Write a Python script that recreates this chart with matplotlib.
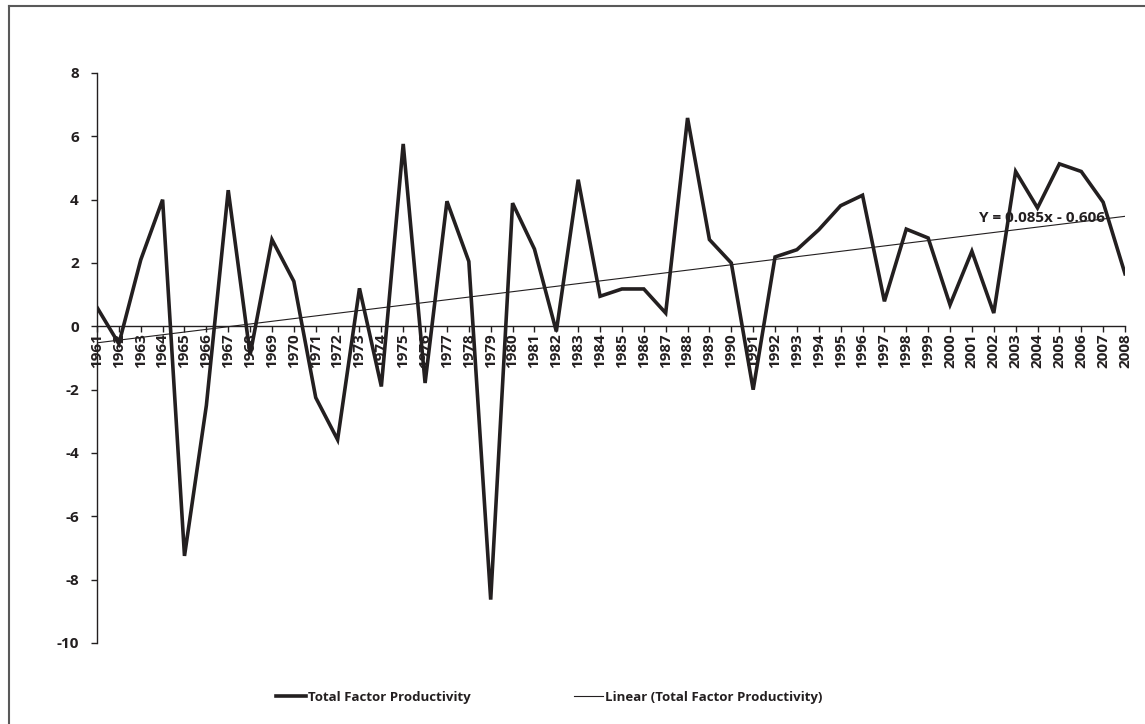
import matplotlib
matplotlib.use("Agg")
import matplotlib.pyplot as plt
from matplotlib.lines import Line2D
import numpy as np

plt.rcParams['font.family'] = ['Open Sans', 'DejaVu Sans']
plt.rcParams['font.weight'] = 'bold'

# data
years = list(range(1961, 2009))
tfp = [0.6, -0.55, 2.1, 4.0, -7.25, -2.5, 4.3, -0.9, 2.74, 1.42,
       -2.25, -3.58, 1.2, -1.9, 5.76, -1.79, 3.95, 2.05, -8.63, 3.89,
       2.44, -0.16, 4.63, 0.95, 1.18, 1.18, 0.42, 6.58, 2.74, 2.0,
       -2.0, 2.19, 2.42, 3.05, 3.81, 4.14, 0.79, 3.07, 2.79, 0.68,
       2.37, 0.42, 4.89, 3.74, 5.13, 4.89, 3.92, 1.66]
trend_slope = 0.085
trend_intercept = -0.606
y_ticks = [-10, -8, -6, -4, -2, 0, 2, 4, 6, 8]

ink = '#231f20'
fs = 11

fig = plt.figure(figsize=(11.45, 7.24), dpi=100)
ax = fig.add_axes([97 / 1145, 1 - 643 / 724, (1125 - 97) / 1145, (643 - 73) / 724])

# move the category axis to y=0 first (this rebuilds the ticks)
ax.spines['top'].set_visible(False)
ax.spines['right'].set_visible(False)
ax.spines['bottom'].set_position(('data', 0))
for s in ('left', 'bottom'):
    ax.spines[s].set_color(ink)
    ax.spines[s].set_linewidth(1.0)

x = np.arange(1, len(years) + 1)
ax.plot(x, tfp, color=ink, lw=2.6, solid_joinstyle='miter',
        label='Total Factor Productivity')
trend = trend_slope * x + trend_intercept
ax.plot(x, trend, color=ink, lw=0.8, label='Linear (Total Factor Productivity)')

ax.set_xlim(1, len(years))
ax.set_ylim(-10, 8)
ax.set_yticks(y_ticks)
ax.set_yticklabels([str(v) for v in y_ticks])
ax.set_xticks(x)
ax.set_xticklabels([str(y) for y in years])
ax.tick_params(axis='both', colors=ink, width=1.0, length=4, direction='out',
               labelsize=fs)
ax.tick_params(axis='x', pad=1, labelrotation=90)
ax.tick_params(axis='y', pad=9)
for lab in ax.get_xticklabels() + ax.get_yticklabels():
    lab.set_fontweight('bold')

ax.text(47.1, 3.43, 'Y = 0.085x - 0.606', ha='right', va='center',
        fontsize=fs, fontweight='bold', color=ink)

leg = fig.legend(loc='center', bbox_to_anchor=(0.48, 1 - 697 / 724), ncol=2,
                 frameon=False, fontsize=9.5, handlelength=2.2,
                 columnspacing=7.8, handletextpad=0.2)
for t in leg.get_texts():
    t.set_fontweight('bold')
    t.set_color(ink)

# chart-area frame (only top and left edges are visible in the crop)
fig.add_artist(Line2D([9 / 1145, 9 / 1145], [0, 1 - 6 / 724],
                      transform=fig.transFigure, color='#595959', lw=1.5))
fig.add_artist(Line2D([9 / 1145, 1], [1 - 6 / 724, 1 - 6 / 724],
                      transform=fig.transFigure, color='#595959', lw=1.5))

fig.savefig('out.png', dpi=100)
